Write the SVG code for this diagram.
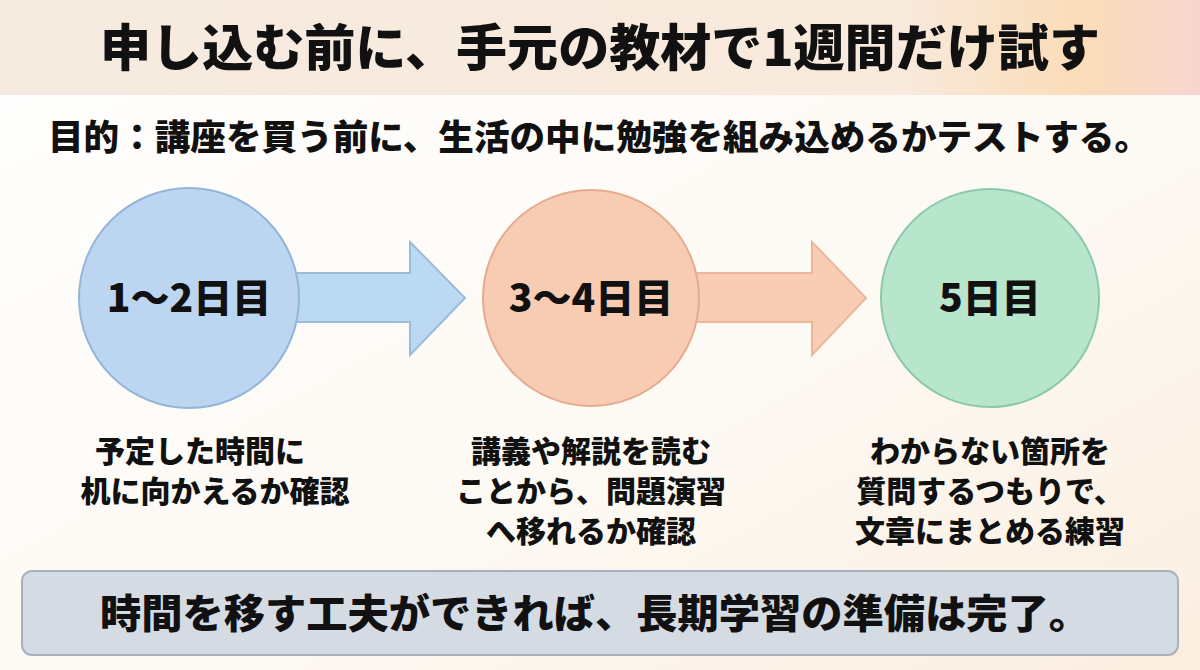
<svg xmlns="http://www.w3.org/2000/svg" width="1200" height="670" viewBox="0 0 1200 670">
<defs>
<linearGradient id="bg" x1="0" y1="0" x2="1" y2="1">
<stop offset="0" stop-color="#ffffff"/><stop offset="0.6" stop-color="#fdf9f3"/><stop offset="1" stop-color="#fbeee0"/>
</linearGradient>
<linearGradient id="hd" x1="0" y1="0" x2="1" y2="0">
<stop offset="0" stop-color="#f6ebe0"/><stop offset="0.75" stop-color="#f8eadc"/><stop offset="0.9" stop-color="#fbdcb8"/><stop offset="1" stop-color="#f9d4d0"/>
</linearGradient>
<style>
text{font-family:"Noto Sans CJK JP","Noto Sans",sans-serif;font-weight:900;fill:#111;text-anchor:middle}
.day{font-size:39px}
.lbl{font-size:30px}
</style>
</defs>
<rect width="1200" height="670" fill="url(#bg)"/>
<rect width="1200" height="95" fill="url(#hd)"/>
<text x="600" y="66" font-size="50" textLength="1000" lengthAdjust="spacingAndGlyphs">申し込む前に、手元の教材で1週間だけ試す</text>
<text x="48" y="150" font-size="35" style="text-anchor:start" textLength="1102" lengthAdjust="spacingAndGlyphs">目的：講座を買う前に、生活の中に勉強を組み込めるかテストする。</text>
<g id="connectors">
<polygon points="290,273 410,273 410,242 465,298 410,355 410,322 290,322" fill="#bcd9f3" stroke="#9bbbd9" stroke-width="2"/>
<polygon points="692,273 812,273 812,242 866,298 812,355 812,322 692,322" fill="#f8cdb4" stroke="#ebb79a" stroke-width="2"/>
</g>
<g id="n1"><circle cx="189" cy="298" r="110" fill="#bcd6f2" stroke="#93b5d8" stroke-width="2"/><text class="day" x="189" y="312">1〜2日目</text>
<text class="lbl" x="200" y="462">予定した時間に</text><text class="lbl" x="215" y="502">机に向かえるか確認</text></g>
<g id="n2"><circle cx="591" cy="298" r="108" fill="#f8cbb3" stroke="#e5ab8e" stroke-width="2"/><text class="day" x="591" y="312">3〜4日目</text>
<text class="lbl" x="591" y="462">講義や解説を読む</text><text class="lbl" x="591" y="502">ことから、問題演習</text><text class="lbl" x="591" y="542">へ移れるか確認</text></g>
<g id="n3"><circle cx="990" cy="298" r="109" fill="#b8e6cc" stroke="#8dc9a8" stroke-width="2"/><text class="day" x="990" y="312">5日目</text>
<text class="lbl" x="990" y="462">わからない箇所を</text><text class="lbl" x="990" y="502">質問するつもりで、</text><text class="lbl" x="990" y="542">文章にまとめる練習</text></g>
<g id="summary"><rect x="22" y="571" width="1156" height="84" rx="10" fill="#d5dbe3" stroke="#a7b1bd" stroke-width="2"/>
<text x="595" y="628" font-size="40" textLength="990" lengthAdjust="spacingAndGlyphs">時間を移す工夫ができれば、長期学習の準備は完了。</text></g>
</svg>
